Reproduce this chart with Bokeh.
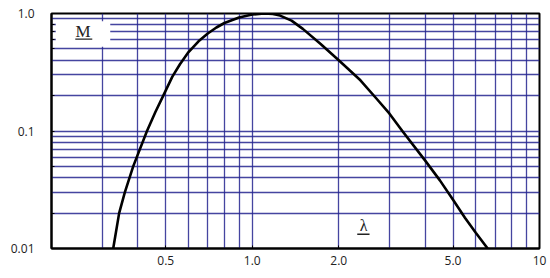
from bokeh.plotting import figure
from bokeh.models import FixedTicker, Label, BoxAnnotation
from bokeh.embed import file_html
from bokeh.resources import INLINE

# curve data
lam = [0.328, 0.344, 0.36, 0.385, 0.43, 0.46, 0.49, 0.527, 0.56, 0.6, 0.65, 0.7,
       0.75, 0.8, 0.9, 1.0, 1.1, 1.18, 1.25, 1.37, 1.5, 1.73, 2.0, 2.38, 2.7,
       3.0, 3.33, 4.0, 4.5, 5.0, 5.5, 6.0, 6.6]
M = [0.01, 0.02, 0.03, 0.05, 0.1, 0.145, 0.2, 0.29, 0.37, 0.47, 0.58, 0.676,
     0.76, 0.83, 0.925, 0.98, 1.0, 0.99, 0.96, 0.87, 0.74, 0.55, 0.40, 0.27, 0.19,
     0.141, 0.1, 0.056, 0.038, 0.026, 0.0183, 0.0136, 0.01]

x_ticks = [0.5, 1, 2, 5, 10]
x_labels = {0.5: "0.5", 1: "1.0", 2: "2.0", 5: "5.0", 10: "10"}
y_ticks = [0.01, 0.1, 1]
y_labels = {0.01: "0.01", 0.1: "0.1", 1: "1.0"}
x_grid = [0.3, 0.4, 0.5, 0.6, 0.7, 0.8, 0.9, 1, 2, 3, 4, 5, 6, 7, 8, 9]
y_grid = [0.02, 0.03, 0.04, 0.05, 0.06, 0.07, 0.08, 0.09, 0.1,
          0.2, 0.3, 0.4, 0.5, 0.6, 0.7, 0.8, 0.9]
y_minor = [0.02, 0.05, 0.2, 0.5, 0.6, 0.7, 0.8]

p = figure(width=548, height=276, x_axis_type="log", y_axis_type="log",
           x_range=(0.2, 10), y_range=(0.01, 1.0),
           output_backend="svg", toolbar_location=None,
           min_border_left=51, min_border_right=9, min_border_top=13, min_border_bottom=28)
p.background_fill_color = "white"
p.border_fill_color = "white"
p.outline_line_color = "black"
p.outline_line_width = 2

GRID = "#25258f"
p.xgrid.ticker = FixedTicker(ticks=x_grid)
p.ygrid.ticker = FixedTicker(ticks=y_grid)
for g in (p.xgrid, p.ygrid):
    g.grid_line_color = GRID
    g.grid_line_alpha = 0.85
    g.grid_line_width = 1.3

for ax in (p.xaxis, p.yaxis):
    ax.axis_line_color = "black"
    ax.axis_line_width = 2
    ax.major_tick_out = 0
    ax.major_tick_in = 3
    ax.minor_tick_out = 0
    ax.minor_tick_in = 3
    ax.major_tick_line_color = "black"
    ax.minor_tick_line_color = "black"
    ax.major_label_text_font = "Open Sans"
    ax.major_label_text_font_size = "12px"
    ax.major_label_text_color = "#222222"

p.xaxis.ticker = FixedTicker(ticks=x_ticks, minor_ticks=[])
p.xaxis.major_label_overrides = x_labels
p.xaxis.major_label_standoff = 7
p.yaxis.ticker = FixedTicker(ticks=y_ticks, minor_ticks=y_minor)
p.yaxis.major_label_overrides = y_labels
p.yaxis.major_label_standoff = 17

# white patch behind the M label
p.add_layout(BoxAnnotation(left=0.207, right=0.3203, bottom=0.52, top=0.86,
                           fill_color="white", fill_alpha=1.0, line_color=None))

p.line(lam, M, line_color="black", line_width=2.6, line_join="round")

p.add_layout(Label(x=0.2577, y=0.70, text="M", text_font="Liberation Serif",
                   text_font_size="17px", text_color="#222222",
                   text_align="center", text_baseline="middle"))
p.add_layout(BoxAnnotation(left=0.242, right=0.2773, bottom=0.597, top=0.6125,
                           fill_color="#222222", fill_alpha=1.0, line_color=None))
p.add_layout(Label(x=2.44, y=0.0157, text="λ", text_font="Liberation Serif",
                   text_font_size="16px", text_color="#222222",
                   text_align="center", text_baseline="middle"))
p.add_layout(BoxAnnotation(left=2.32, right=2.56, bottom=0.01303, top=0.01342,
                           fill_color="#222222", fill_alpha=1.0, line_color=None))

open("out.html", "w").write(file_html(p, INLINE))
